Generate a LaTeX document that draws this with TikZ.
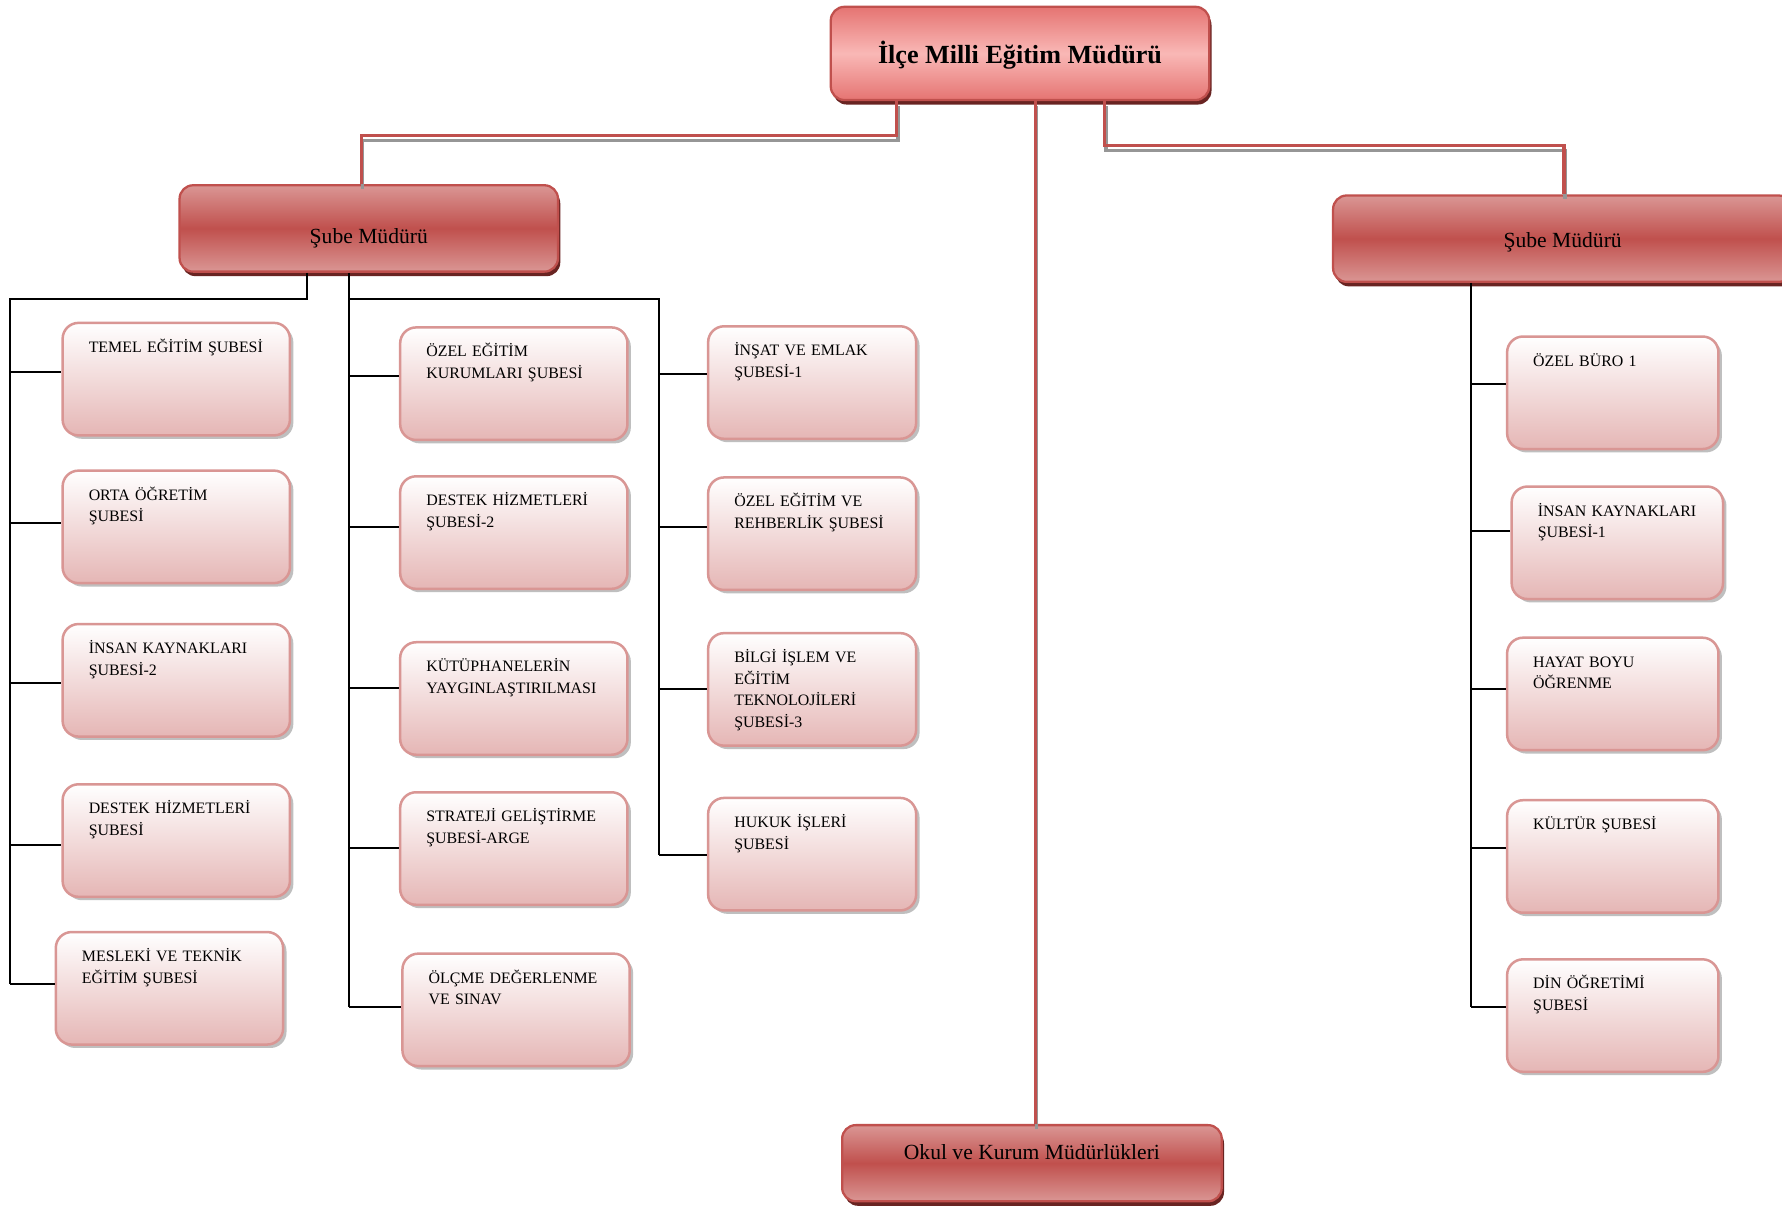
\documentclass[tikz,border=0pt]{standalone}
\usepackage{fontspec}
\setmainfont{Liberation Serif}
\usetikzlibrary{shadows}
\hyphenpenalty=10000
\exhyphenpenalty=10000
\definecolor{rd}{RGB}{192,80,77}
\definecolor{rdlight}{RGB}{218,150,148}
\definecolor{pinkb}{RGB}{229,182,181}
\definecolor{sbord}{RGB}{217,150,148}
\definecolor{rdshadow}{RGB}{105,36,34}
\definecolor{toptop}{RGB}{229,116,114}
\definecolor{topmid}{RGB}{249,184,182}
\definecolor{shgray}{RGB}{150,150,150}
\begin{document}
\begin{tikzpicture}[x=1pt,y=-1pt,
  sb/.style={draw=sbord, line width=2.2pt, rounded corners=14pt,
    top color=white, bottom color=pinkb, anchor=north west,
    inner xsep=23pt, inner ysep=0pt, align=left,
    text height=26pt, text depth=73pt,
    font=\fontsize{14}{19}\selectfont,
    drop shadow={shadow xshift=3pt, shadow yshift=-3pt, fill=black!45, opacity=0.55}},
  cw1/.style={text width=154pt},
  cw3/.style={text width=137pt},
  cwr/.style={text width=140pt},
  bb/.style={draw=rd, line width=2pt, rounded corners=12pt,
    top color=rdlight, bottom color=rdlight, middle color=rd,
    anchor=north west, inner sep=0pt, align=center,
    font=\fontsize{19}{22}\selectfont,
    drop shadow={shadow xshift=2pt, shadow yshift=-4pt, fill=rdshadow, opacity=1}},
  tb/.style={bb, top color=toptop, bottom color=toptop, middle color=topmid,
    font=\bfseries\fontsize{23}{26}\selectfont},
  redc/.style={draw=rd, line width=3pt,
    preaction={draw=shgray, line width=3pt, transform canvas={xshift=1pt, yshift=-4.5pt}}},
  blk/.style={draw=black, line width=1.8pt}
]
\useasboundingbox (0,0) rectangle (1568,1061);
\fill[white] (0,0) rectangle (1568,1061);

% coordinates for connector routing
\coordinate (tl) at (789,119);
\coordinate (tl2) at (318,119);
\coordinate (tm) at (911,0);
\coordinate (tr) at (972,128);
\coordinate (tr2) at (1376,128);
\coordinate (la) at (270,263);
\coordinate (lb) at (9,263);
\coordinate (lc) at (307,263);
\coordinate (ld) at (580,263);
\coordinate (re) at (1294,0);

% main boxes
\node[tb, minimum width=333pt, minimum height=82pt, text height=18pt, text depth=1pt] (top) at (730,5) {İlçe Milli Eğitim Müdürü};
\node[bb, minimum width=333pt, minimum height=76pt, text height=28pt, text depth=1pt] (ls) at (157,162) {Şube Müdürü};
\node[bb, minimum width=404pt, minimum height=76pt, text height=16pt, text depth=1pt] (rs) at (1172,171) {Şube Müdürü};
\node[bb, minimum width=334pt, minimum height=67pt, text height=8pt, text depth=14pt] (ok) at (740,989) {Okul ve Kurum Müdürlükleri};

% red connectors
\draw[redc] (top.south -| tl) -- (tl) -- (tl2) -- (ls.north -| tl2);
\draw[redc] (top.south -| tm) -- (ok.north -| tm);
\draw[redc] (top.south -| tr) -- (tr) -- (tr2) -- (rs.north -| tr2);

% column 1
\node[sb, cw1] (b11) at (54,283) {TEMEL~EĞİTİM~ŞUBESİ};
\node[sb, cw1] (b12) at (54,413) {ORTA~ÖĞRETİM\\ŞUBESİ};
\node[sb, cw1] (b13) at (54,548) {İNSAN~KAYNAKLARI\\ŞUBESİ-2};
\node[sb, cw1] (b14) at (54,689) {DESTEK~HİZMETLERİ\\ŞUBESİ};
\node[sb, cw1] (b15) at (48,819) {MESLEKİ~VE~TEKNİK\\EĞİTİM~ŞUBESİ};
% column 2
\node[sb, cw1] (b21) at (351,287) {ÖZEL~EĞİTİM\\KURUMLARI~ŞUBESİ};
\node[sb, cw1] (b22) at (351,418) {DESTEK~HİZMETLERİ\\ŞUBESİ-2};
\node[sb, cw1] (b23) at (351,564) {KÜTÜPHANELERİN\\YAYGINLAŞTIRILMASI};
\node[sb, cw1] (b24) at (351,696) {STRATEJİ~GELİŞTİRME\\ŞUBESİ-ARGE};
\node[sb, cw1] (b25) at (353,838) {ÖLÇME~DEĞERLENME\\VE~SINAV};
% column 3
\node[sb, cw3] (b31) at (622,286) {İNŞAT~VE~EMLAK\\ŞUBESİ-1};
\node[sb, cw3] (b32) at (622,419) {ÖZEL~EĞİTİM~VE\\REHBERLİK~ŞUBESİ};
\node[sb, cw3] (b33) at (622,556) {BİLGİ~İŞLEM~VE\\EĞİTİM\\TEKNOLOJİLERİ\\ŞUBESİ-3};
\node[sb, cw3] (b34) at (622,701) {HUKUK~İŞLERİ\\ŞUBESİ};
% right column
\node[sb, cwr] (r1) at (1325,295) {ÖZEL~BÜRO~1};
\node[sb, cwr] (r2) at (1329,427) {İNSAN~KAYNAKLARI\\ŞUBESİ-1};
\node[sb, cwr] (r3) at (1325,560) {HAYAT~BOYU\\ÖĞRENME};
\node[sb, cwr] (r4) at (1325,703) {KÜLTÜR~ŞUBESİ};
\node[sb, cwr] (r5) at (1325,843) {DİN~ÖĞRETİMİ\\ŞUBESİ};

% attachment points on the boxes
\foreach \b/\d in {b11/6.5,b12/3.5,b13/-2.5,b14/-3.5,b15/3.5,
                   b21/6.5,b22/4.5,b23/9.5,b24/0.5,b25/2.5,
                   b31/7.5,b32/5.5,b33/0.5,b34/-0.5,
                   r1/7.5,r2/10.5,r3/4.5,r4/7.5,r5/7.5}
  \coordinate (\b-in) at ([yshift=\d pt]\b.west);

% black connectors, left Şube Müdürü
\draw[blk] (ls.south -| la) -- (la) -- (lb) -- (lb |- b15-in);
\foreach \b in {b11,b12,b13,b14,b15} \draw[blk] (lb |- \b-in) -- (\b-in);
\draw[blk] (ls.south -| lc) -- (lc |- b25-in);
\draw[blk] (lc) -- (ld) -- (ld |- b34-in);
\foreach \b in {b21,b22,b23,b24,b25} \draw[blk] (lc |- \b-in) -- (\b-in);
\foreach \b in {b31,b32,b33,b34} \draw[blk] (ld |- \b-in) -- (\b-in);
% black connectors, right Şube Müdürü
\draw[blk] (rs.south -| re) -- (re |- r5-in);
\foreach \b in {r1,r2,r3,r4,r5} \draw[blk] (re |- \b-in) -- (\b-in);
\end{tikzpicture}
\end{document}
